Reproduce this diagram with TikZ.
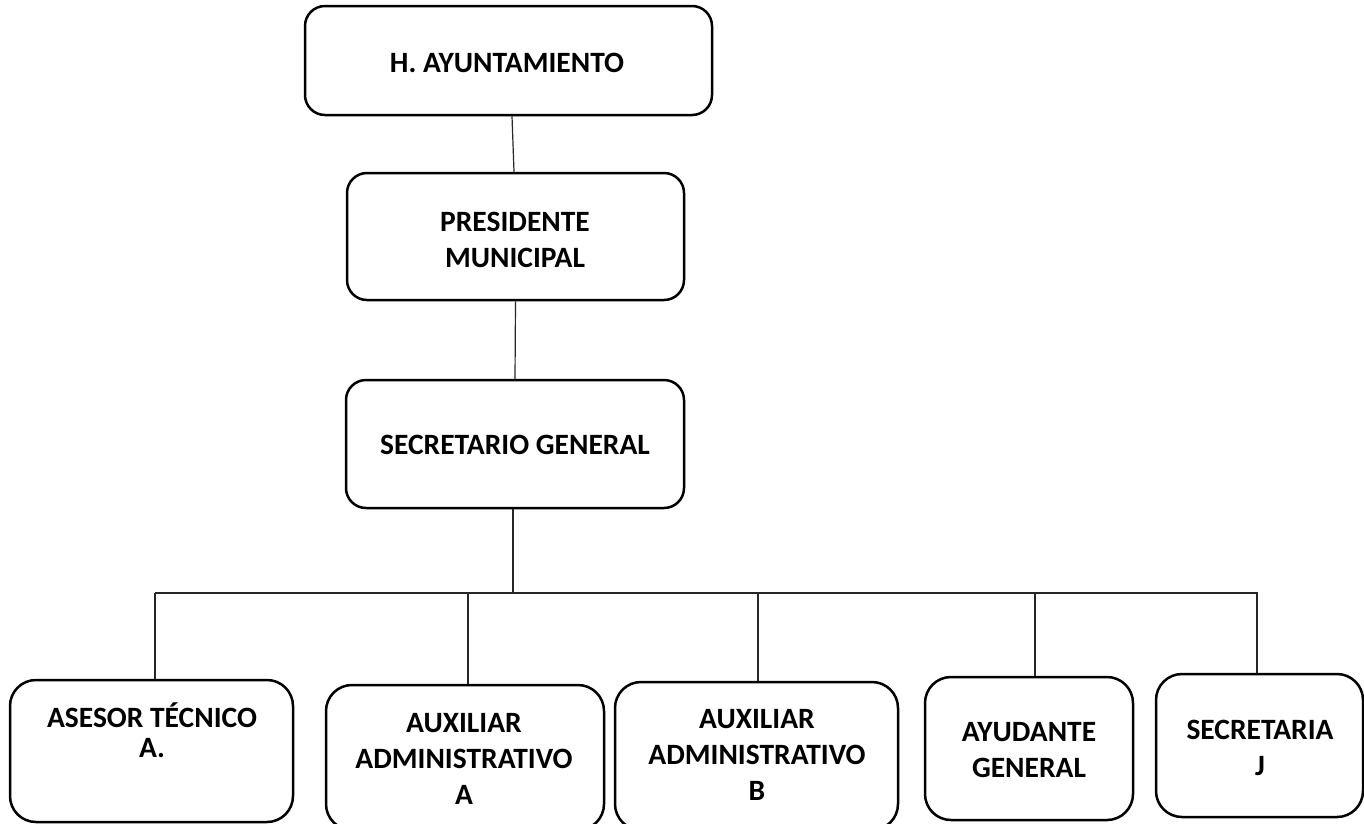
\documentclass[tikz,border=0pt]{standalone}
\usepackage{fontspec}
\setmainfont{Carlito}
\begin{document}
\begin{tikzpicture}[x=1pt,y=-1pt,
  topbox/.style={draw=black,line width=2.5pt,rounded corners=20pt,inner sep=0pt},
  lowbox/.style={draw=black,line width=2.5pt,rounded corners=26pt,inner sep=0pt},
  lbl/.style={align=center,inner sep=0pt,font=\fontsize{29.5}{36}\selectfont\bfseries},
  conn/.style={draw=black!85,line width=1.2pt}]
\useasboundingbox (0,0) rectangle (1364,823);
% boxes
\node[topbox,minimum width=407pt,minimum height=109pt] (ayunt) at (508.5,60.5) {};
\node[topbox,minimum width=337pt,minimum height=127pt] (pres) at (515.5,236.5) {};
\node[topbox,minimum width=338pt,minimum height=128pt] (sec) at (515,444) {};
\node[lowbox,minimum width=283pt,minimum height=142pt] (ases) at (151.5,751) {};
\node[lowbox,minimum width=278pt,minimum height=145pt] (auxa) at (465,757.5) {};
\node[lowbox,minimum width=283pt,minimum height=148pt] (auxb) at (756.5,756) {};
\node[lowbox,minimum width=208pt,minimum height=143pt] (ayud) at (1029,748.5) {};
\node[lowbox,minimum width=207pt,minimum height=143pt] (secr) at (1259.5,745.5) {};
% texts
\node[lbl] (ayunt-t) at (507,63) {H. AYUNTAMIENTO};
\node[lbl] (pres-t) at (515,239.5) {PRESIDENTE\\MUNICIPAL};
\node[lbl] (sec-t) at (515,445) {SECRETARIO GENERAL};
\node[lbl,font=\fontsize{29.5}{30}\selectfont\bfseries] (ases-t) at (152,730.5) {ASESOR TÉCNICO\\A.};
\node[lbl] (auxa-t) at (464,759) {AUXILIAR\\ADMINISTRATIVO\\A};
\node[lbl] (auxb-t) at (757,755) {AUXILIAR\\ADMINISTRATIVO\\B};
\node[lbl] (ayud-t) at (1029,750.5) {AYUDANTE\\GENERAL};
\node[lbl] (secr-t) at (1260,747.5) {SECRETARIA\\J};
% bus coordinates
\coordinate (bus) at (513,593);
\coordinate (busL) at (155,593);
\coordinate (busR) at (1258,593);
\coordinate (d1) at (155,593);
\coordinate (d2) at (468,593);
\coordinate (d3) at (758,593);
\coordinate (d4) at (1035,593);
\coordinate (d5) at (1257,593);
% connectors
\draw[conn] ([xshift=3.5pt]ayunt.south) -- ([xshift=-1.5pt]pres.north);
\draw[conn] (pres.south) -- (sec.north);
\draw[conn] (sec.south -| bus) -- (bus);
\draw[conn] (busL) -- (busR);
\draw[conn] (d1) -- (d1 |- ases.north);
\draw[conn] (d2) -- (d2 |- auxa.north);
\draw[conn] (d3) -- (d3 |- auxb.north);
\draw[conn] (d4) -- (d4 |- ayud.north);
\draw[conn] (d5) -- (d5 |- secr.north);
\end{tikzpicture}
\end{document}
